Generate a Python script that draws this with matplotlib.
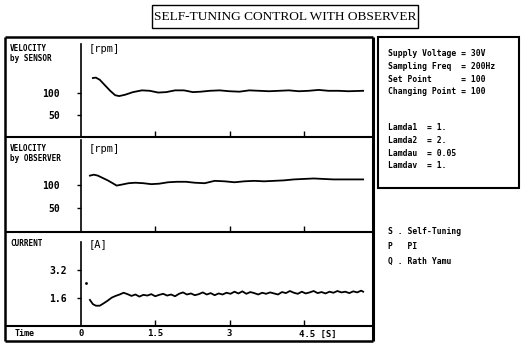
import matplotlib
matplotlib.use("Agg")
import matplotlib.pyplot as plt
from matplotlib.lines import Line2D
from matplotlib.patches import Rectangle

W, H = 521, 345

# velocity by sensor [rpm]
t_sensor = [0.24, 0.30, 0.38, 0.48, 0.59, 0.69, 0.77, 0.89, 1.05, 1.23, 1.39,
            1.56, 1.72, 1.90, 2.08, 2.26, 2.42, 2.60, 2.80, 3.00, 3.20, 3.40,
            3.60, 3.80, 4.00, 4.20, 4.40, 4.60, 4.80, 5.00, 5.20, 5.40, 5.70]
v_sensor = [134, 135, 130, 118, 105, 95, 93, 96, 102, 106, 105,
            101, 102, 106, 106, 102, 103, 105, 106, 104, 103, 106,
            105, 104, 105, 106, 104, 105, 107, 105, 105, 104, 105]

# velocity by observer [rpm]
t_observer = [0.18, 0.26, 0.34, 0.44, 0.54, 0.64, 0.72, 0.82, 0.96, 1.10, 1.26,
              1.42, 1.58, 1.76, 1.94, 2.12, 2.30, 2.50, 2.70, 2.90, 3.10, 3.30,
              3.50, 3.70, 3.90, 4.10, 4.30, 4.50, 4.70, 4.90, 5.10, 5.30, 5.50, 5.70]
v_observer = [119, 121, 119, 114, 109, 103, 98, 100, 103, 104, 103,
              101, 102, 105, 106, 106, 104, 103, 108, 107, 105, 107,
              108, 107, 108, 109, 111, 112, 113, 112, 111, 111, 111, 111]

# motor current [A]
t_current = [0.18, 0.24, 0.30, 0.38, 0.46, 0.54, 0.62, 0.70, 0.78, 0.86, 0.94,
             1.02, 1.10, 1.18, 1.26, 1.34, 1.42, 1.50, 1.58, 1.66, 1.74, 1.82,
             1.90, 1.98, 2.06, 2.14, 2.22, 2.30, 2.38, 2.46, 2.54, 2.62, 2.70,
             2.78, 2.86, 2.94, 3.02, 3.10, 3.18, 3.26, 3.34, 3.42, 3.50, 3.58,
             3.66, 3.74, 3.82, 3.90, 3.98, 4.06, 4.14, 4.22, 4.30, 4.38, 4.46,
             4.54, 4.62, 4.70, 4.78, 4.86, 4.94, 5.02, 5.10, 5.18, 5.26, 5.34,
             5.42, 5.50, 5.58, 5.66, 5.70]
i_current = [1.49, 1.25, 1.16, 1.16, 1.30, 1.45, 1.62, 1.72, 1.80, 1.90, 1.82,
             1.72, 1.80, 1.68, 1.78, 1.74, 1.82, 1.70, 1.78, 1.84, 1.74, 1.80,
             1.70, 1.84, 1.92, 1.80, 1.86, 1.76, 1.82, 1.92, 1.80, 1.88, 1.76,
             1.86, 1.80, 1.90, 1.84, 1.96, 1.86, 1.98, 1.84, 1.94, 1.88, 1.80,
             1.90, 1.84, 1.92, 1.86, 1.80, 1.94, 1.88, 2.00, 1.90, 1.84, 1.96,
             1.86, 1.92, 2.00, 1.88, 1.94, 1.86, 1.96, 1.90, 2.00, 1.92, 1.96,
             1.88, 1.98, 1.92, 2.02, 1.96]
stray_t, stray_i = [0.10], [2.44]

time_ticks = [0, 1.5, 3, 4.5]
time_labels = ['0', '1.5', '3', '4.5 [S]']

params = ["Supply Voltage = 30V",
          "Sampling Freq  = 200Hz",
          "Set Point      = 100",
          "Changing Point = 100"]
lamdas = ["Lamda1  = 1.",
          "Lamda2  = 2.",
          "Lamdau  = 0.05",
          "Lamdav  = 1."]
legend_items = ["S . Self-Tuning", "P   PI", "Q . Rath Yamu"]

MONO = 'DejaVu Sans Mono'


def fx(x):
    return x / W


def fy(y):
    return 1 - y / H


def line(fig, xs, ys, lw=1.5):
    fig.add_artist(Line2D([fx(x) for x in xs], [fy(y) for y in ys],
                          transform=fig.transFigure, color='black', lw=lw,
                          solid_capstyle='butt'))


fig = plt.figure(figsize=(W / 100, H / 100), dpi=100)

# title box
fig.add_artist(Rectangle((fx(152), fy(28)), (418 - 152) / W, 23 / H,
                         transform=fig.transFigure, fill=False, lw=1.0))
fig.text(fx(285), fy(16.5), "SELF-TUNING CONTROL WITH OBSERVER",
         family='Liberation Serif', fontsize=9.6, ha='center', va='center')

# main frame
X0, X1 = 81, 373
PX_PER_S = 49.5
xmax = (X1 - X0) / PX_PER_S
TOP = 37
line(fig, [5, X1], [TOP, TOP], lw=1.8)
line(fig, [5, 5], [TOP, 341], lw=1.8)
line(fig, [X1, X1], [TOP, 341], lw=2.2)
line(fig, [5, X1], [341, 341], lw=1.8)
for y in [137, 232, 326]:
    line(fig, [5, X1], [y, y], lw=1.5)

panels = [
    (TOP, 137, 100 / 44, [50, 100], ['50', '100'], t_sensor, v_sensor,
     "VELOCITY\nby SENSOR", "[rpm]", 12, 44),
    (137, 232, 95 / 45, [50, 100], ['50', '100'], t_observer, v_observer,
     "VELOCITY\nby OBSERVER", "[rpm]", 12, 140),
    (232, 326, 1 / 17.5, [1.6, 3.2], ['1.6', '3.2'], t_current, i_current,
     "CURRENT", "[A]", 7, 242),
]

for top, bottom, unit, ticks, labels, tx, vy, name, unit_txt, pad, ax_top in panels:
    ax = fig.add_axes([fx(X0), fy(bottom), (X1 - X0) / W, (bottom - top) / H])
    ax.set_xlim(0, xmax)
    ymax = (bottom - top) * unit
    ax.set_ylim(0, ymax)
    ax.patch.set_visible(False)
    for s in ['top', 'right', 'bottom']:
        ax.spines[s].set_visible(False)
    ax.spines['left'].set_linewidth(1.2)
    ax.spines['left'].set_bounds(0, (bottom - ax_top) * unit)
    ax.plot(tx, vy, color='black', lw=1.3)
    ax.set_yticks(ticks)
    ax.set_yticklabels(labels, family=MONO, weight='bold', fontsize=7)
    ax.tick_params(axis='y', direction='out', length=3, width=1, pad=pad)
    ax.set_xticks(time_ticks[1:])
    ax.tick_params(axis='x', direction='in', length=4, width=1,
                   labelbottom=False)
    fig.text(fx(10), fy(top + 7), name, family=MONO, weight='bold',
             fontsize=5.5, ha='left', va='top', linespacing=1.1)
    fig.text(fx(89), fy(top + 12), unit_txt, family=MONO, fontsize=7.5,
             ha='left', va='center')
    if unit_txt == "[A]":
        ax.plot(stray_t, stray_i, 'k.', ms=2)

# time row
fig.text(fx(15), fy(334), "Time", family=MONO, weight='bold', fontsize=6,
         ha='left', va='center')
for t, lab in zip(time_ticks, time_labels):
    x = X0 + t * PX_PER_S
    if lab.endswith('[S]'):
        fig.text(fx(x - 5), fy(334), lab, family=MONO, weight='bold',
                 fontsize=6.5, ha='left', va='center')
    else:
        fig.text(fx(x), fy(334), lab, family=MONO, weight='bold',
                 fontsize=6.5, ha='center', va='center')

# parameter box
fig.add_artist(Rectangle((fx(378), fy(188)), (519 - 378) / W, (188 - TOP) / H,
                         transform=fig.transFigure, fill=False, lw=1.5))
for k, s in enumerate(params):
    fig.text(fx(388), fy(54 + k * 12.5), s, family=MONO, weight='bold',
             fontsize=5.8, ha='left', va='center')
for k, s in enumerate(lamdas):
    fig.text(fx(388), fy(128 + k * 12.5), s, family=MONO, weight='bold',
             fontsize=5.8, ha='left', va='center')

# legend
for k, s in enumerate(legend_items):
    fig.text(fx(388), fy(232 + k * 14.5), s, family=MONO, weight='bold',
             fontsize=5.8, ha='left', va='center')

fig.savefig('out.png', dpi=100)
